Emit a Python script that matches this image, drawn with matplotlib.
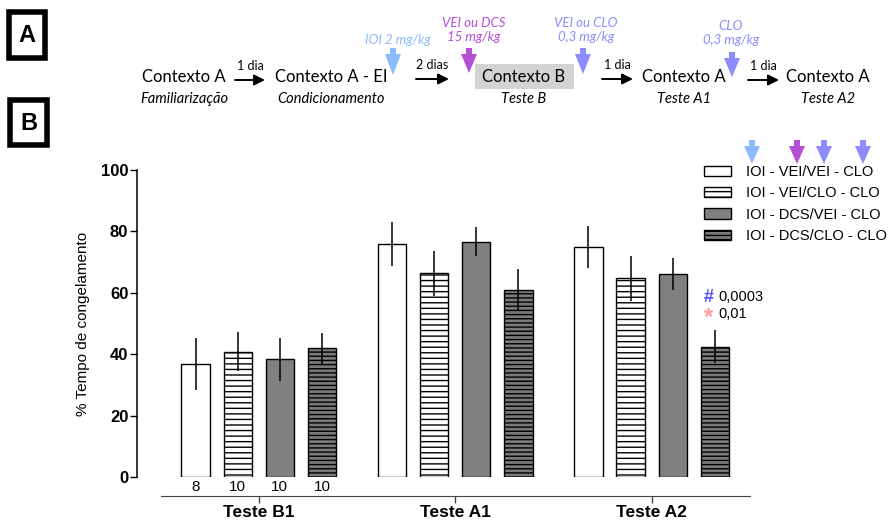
import matplotlib
matplotlib.use("Agg")
import matplotlib.pyplot as plt
from matplotlib.patches import Polygon, Rectangle
import numpy as np

# ---- data ----
groups = ["Teste B1", "Teste A1", "Teste A2"]
labels = ["IOI - VEI/VEI - CLO", "IOI - VEI/CLO - CLO",
          "IOI - DCS/VEI - CLO", "IOI - DCS/CLO - CLO"]
vei_vei = [36.8, 75.9, 75.0]
vei_vei_sem = [8.6, 7.3, 6.9]
vei_clo = [40.8, 66.3, 64.7]
vei_clo_sem = [6.3, 7.4, 7.3]
dcs_vei = [38.3, 76.7, 66.0]
dcs_vei_sem = [6.9, 4.6, 5.2]
dcs_clo = [41.9, 60.9, 42.4]
dcs_clo_sem = [5.0, 6.7, 5.4]
n_b1 = ["8", "10", "10", "10"]
yticks = [0, 20, 40, 60, 80, 100]

means = [vei_vei, vei_clo, dcs_vei, dcs_clo]
sems = [vei_vei_sem, vei_clo_sem, dcs_vei_sem, dcs_clo_sem]
faces = ["white", "white", "#808080", "#7a7a7a"]
hatches = [None, "---", None, "----"]

W, H = 896, 526
fig = plt.figure(figsize=(W / 100, H / 100), dpi=100)

# overlay in pixel coordinates for the schematic (panel A)
ov = fig.add_axes([0, 0, 1, 1])
ov.set_xlim(0, W)
ov.set_ylim(H, 0)
ov.axis("off")

SF = "Lato"
lblue, purple, peri = "#8cbcff", "#b44fd6", "#8c8cff"


def down_arrow(x, ytop, ytip, color):
    pts = [(x - 3, ytop), (x + 3, ytop), (x + 3, ytop + 6), (x + 8, ytop + 6),
           (x, ytip), (x - 8, ytop + 6), (x - 3, ytop + 6)]
    ov.add_patch(Polygon(pts, closed=True, fc=color, ec="none"))


def right_arrow(x0, x1, y, txt):
    ov.annotate("", xy=(x1, y), xytext=(x0, y),
                arrowprops=dict(arrowstyle="-|>", color="black", lw=1.4,
                                mutation_scale=16, shrinkA=0, shrinkB=0))
    ov.text((x0 + x1) / 2, y - 8, txt, ha="center", va="bottom",
            fontsize=9, family=SF)


def panel_box(x0, y0, x1, y1, letter):
    ov.add_patch(Rectangle((x0, y0), x1 - x0, y1 - y0, fc="white",
                           ec="black", lw=4))
    ov.text((x0 + x1) / 2, (y0 + y1) / 2 + 1, letter, ha="center",
            va="center", fontsize=17, fontweight="bold",
            family="Liberation Sans")


panel_box(9, 12, 45, 58, "A")
panel_box(10, 100, 47, 145, "B")

# contexts
ov.add_patch(Rectangle((475, 64), 99, 25, fc="#d3d3d3", ec="none"))
for xc, t1, t2 in [(184, "Contexto A", "Familiarização"),
                   (331, "Contexto A - EI", "Condicionamento"),
                   (524, "Contexto B", "Teste B"),
                   (684, "Contexto A", "Teste A1"),
                   (828, "Contexto A", "Teste A2")]:
    ov.text(xc, 77, t1, ha="center", va="center", fontsize=12, family=SF)
    ov.text(xc, 99, t2, ha="center", va="center", fontsize=10.5,
            style="italic", family=SF)

right_arrow(235, 265, 80, "1 dia")
right_arrow(416, 449, 79, "2 dias")
right_arrow(602, 633, 79, "1 dia")
right_arrow(748, 779, 80, "1 dia")

cf = 9.5
down_arrow(393, 48, 75, lblue)
ov.text(398, 40, "IOI 2 mg/kg", ha="center", va="center", fontsize=cf,
        style="italic", color=lblue, family=SF)
down_arrow(469, 48, 73, purple)
ov.text(474, 30, "VEI ou DCS\n15 mg/kg", ha="center", va="center",
        fontsize=cf, style="italic", color=purple, family=SF,
        linespacing=1.25)
down_arrow(583, 48, 74, peri)
ov.text(586, 30, "VEI ou CLO\n0,3 mg/kg", ha="center", va="center",
        fontsize=cf, style="italic", color=peri, family=SF,
        linespacing=1.25)
down_arrow(732, 52, 77, peri)
ov.text(731, 33, "CLO\n0,3 mg/kg", ha="center", va="center",
        fontsize=cf, style="italic", color=peri, family=SF,
        linespacing=1.25)

# arrows above the legend
for xa, c in [(752, lblue), (797, purple), (824, peri), (863, peri)]:
    down_arrow(xa, 140, 164, c)

# ---- panel B: bar chart ----
plt.rcParams["font.family"] = "Liberation Sans"
ax = fig.add_axes([136.7 / W, 1 - 477 / H, (760 - 136.7) / W, 307 / H])
ax.patch.set_alpha(0)

gap = 4.66
width = 0.67
xg = np.arange(len(groups)) * gap
handles = []
for i in range(4):
    x = xg + i
    b = ax.bar(x, means[i], width, color=faces[i], edgecolor="black",
               linewidth=1.0, hatch=hatches[i], label=labels[i], zorder=2)
    handles.append(b)
    ax.errorbar(x, means[i], yerr=sems[i], fmt="none", ecolor="black",
                elinewidth=1.1, capsize=0, zorder=3)

ax.set_xlim(-1.395, 13.39)
ax.set_ylim(0, 100)
ax.set_yticks(yticks)
ax.set_yticklabels([str(v) for v in yticks], fontsize=12, fontweight="bold")
ax.tick_params(axis="y", length=5, width=1, pad=1)
ax.set_ylabel("% Tempo de congelamento", fontsize=11, labelpad=8)

for s in ["top", "right"]:
    ax.spines[s].set_visible(False)
ax.spines["left"].set_linewidth(1.1)
ax.spines["bottom"].set_position(("outward", 14))
ax.spines["bottom"].set_bounds(-0.82, 13.15)
ax.spines["bottom"].set_color("#444444")
ax.set_xticks(xg + 1.5)
ax.set_xticklabels(groups, fontsize=12.5, fontweight="bold")
ax.tick_params(axis="x", length=5, width=1, pad=1, color="#444444")

for i, n in enumerate(n_b1):
    ax.annotate(n, xy=(xg[0] + i, 0), xytext=(0, -2),
                textcoords="offset points", ha="center", va="top",
                fontsize=11)

leg = ax.legend(handles=handles, loc="upper left",
                bbox_to_anchor=(704 / W, 1 - 165 / H),
                bbox_transform=fig.transFigure, frameon=False,
                fontsize=10.5, handlelength=1.85, handleheight=0.7,
                labelspacing=0.5, handletextpad=1.0, borderpad=0,
                borderaxespad=0)

# significance notes
fig.text(704 / W, 1 - 297 / H, "#", color="#5555ff", fontsize=13,
         fontweight="bold", va="center")
fig.text(718 / W, 1 - 297 / H, "0,0003", fontsize=10.5, va="center")
fig.text(704 / W, 1 - 318 / H, "*", color="#ff9a9a", fontsize=17,
         fontweight="bold", va="center")
fig.text(718 / W, 1 - 314 / H, "0,01", fontsize=10.5, va="center")

fig.savefig("out.png", dpi=100)
